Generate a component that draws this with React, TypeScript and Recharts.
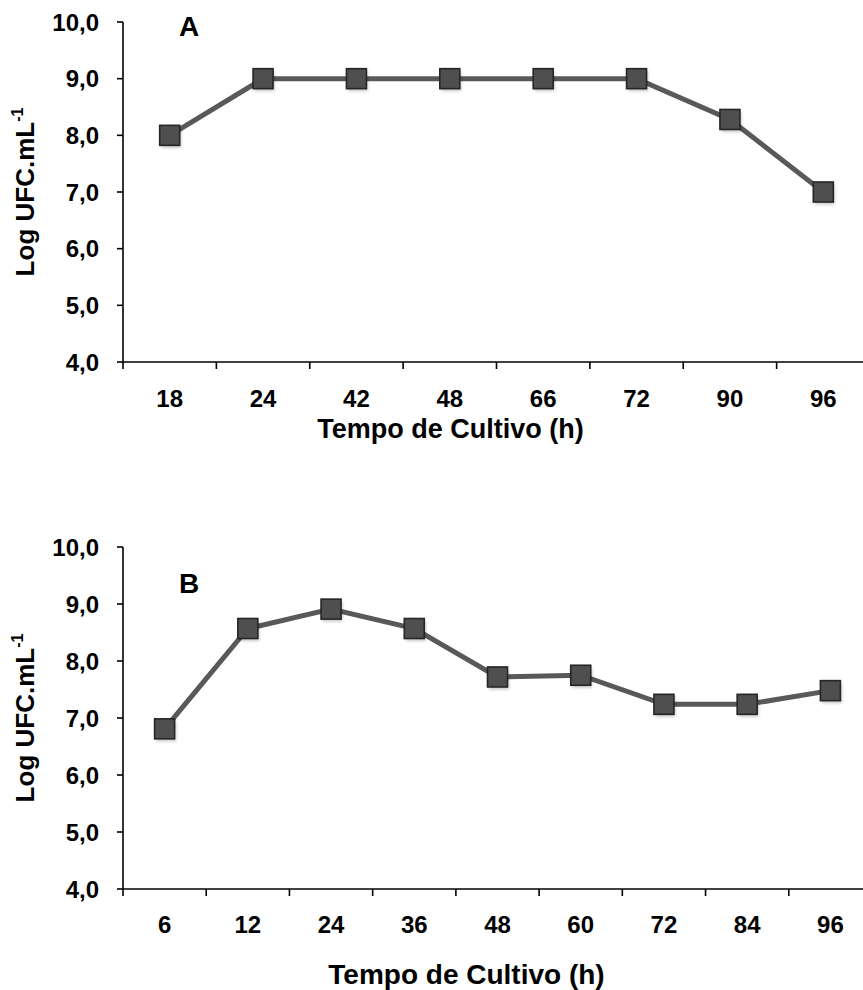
import React from 'react';
import { LineChart, Line, XAxis, YAxis } from 'recharts';

const hoursA = ['18', '24', '42', '48', '66', '72', '90', '96'];
const valuesA = [8.0, 9.0, 9.0, 9.0, 9.0, 9.0, 8.28, 7.0];

const hoursB = ['6', '12', '24', '36', '48', '60', '72', '84', '96'];
const valuesB = [6.81, 8.57, 8.91, 8.57, 7.72, 7.75, 7.24, 7.24, 7.48];

const yTicks = [4, 5, 6, 7, 8, 9, 10];
const xTitle = 'Tempo de Cultivo (h)';

const FONT = '"Liberation Sans", Arial, Helvetica, sans-serif';

const dataA = hoursA.map((h, i) => ({ h, v: valuesA[i] }));
const dataB = hoursB.map((h, i) => ({ h, v: valuesB[i] }));

const fmt = (v: number) => v.toFixed(1).replace('.', ',');

const Square = (props: any) => {
  const { cx, cy, index } = props;
  if (cx == null || cy == null) return null;
  const s = 20;
  return (
    <g key={`sq-${index}`}>
      <rect x={cx - s / 2 + 1.5} y={cy - s / 2 + 2.5} width={s} height={s} fill="rgba(0,0,0,0.22)" filter="url(#blurSh)" />
      <rect x={cx - s / 2} y={cy - s / 2} width={s} height={s} fill="#4f4f4f" stroke="#262626" strokeWidth={1.6} />
    </g>
  );
};

const makeXTick = (labelDy: number) => (props: any) => {
  const { x, y, payload, index } = props;
  const half = payload && payload.offset != null ? payload.offset : 0;
  return (
    <g key={`xt-${index}`}>
      <line x1={x - half} x2={x - half} y1={y} y2={y + 7} stroke="#000" strokeWidth={1.6} />
      <text x={x} y={y + labelDy} textAnchor="middle" fontFamily={FONT} fontWeight="bold" fontSize={24} fill="#000">
        {payload.value}
      </text>
    </g>
  );
};

const makeXTitle = (dx: number, dy: number, size: number) => (props: any) => {
  const vb = props.viewBox || {};
  const x = vb.x + vb.width / 2 + dx;
  const y = vb.y + dy;
  return (
    <text x={x} y={y} textAnchor="middle" fontFamily={FONT} fontWeight="bold" fontSize={size} fill="#000">
      {xTitle}
    </text>
  );
};

const YTitle = (props: any) => {
  const vb = props.viewBox || {};
  const cy = vb.y + vb.height / 2;
  const x = 34;
  return (
    <text x={x} y={cy} transform={`rotate(-90, ${x}, ${cy})`} textAnchor="middle" fontFamily={FONT} fontWeight="bold" fontSize={26} fill="#000">
      Log UFC.mL
      <tspan dy={-11} fontSize={16}>-1</tspan>
    </text>
  );
};

const Panel = ({ data, letter, letterY, height, plotHeight, marginRight, labelDy, titleDx, titleDy, titleSize }: any) => (
  <LineChart
    width={880}
    height={height}
    data={data}
    margin={{ top: 22, right: marginRight, left: 0, bottom: 0 }}
  >
    <defs>
      <filter id="blurSh" x="-30%" y="-30%" width="160%" height="160%">
        <feGaussianBlur stdDeviation="1.8" />
      </filter>
    </defs>
    <XAxis
      dataKey="h"
      type="category"
      scale="band"
      height={height - 22 - plotHeight}
      axisLine={{ stroke: '#000', strokeWidth: 1.6 }}
      tickLine={false}
      tickSize={0}
      tickMargin={0}
      interval={0}
      tick={makeXTick(labelDy)}
      label={{ content: makeXTitle(titleDx, titleDy, titleSize) }}
    />
    <YAxis
      domain={[4, 10]}
      ticks={yTicks}
      type="number"
      width={123}
      axisLine={{ stroke: '#000', strokeWidth: 1.6 }}
      tickLine={{ stroke: '#000', strokeWidth: 1.6 }}
      tickSize={6}
      tickMargin={18}
      tickFormatter={fmt}
      tick={{ fontFamily: FONT, fontWeight: 'bold', fontSize: 24, fill: '#000' }}
      label={{ content: (p: any) => <YTitle {...p} /> }}
    />
    <Line
      dataKey="v"
      stroke="#595959"
      strokeWidth={5}
      dot={Square}
      activeDot={false}
      isAnimationActive={false}
    />
    <text x={189} y={letterY} textAnchor="middle" fontFamily={FONT} fontWeight="bold" fontSize={28} fill="#000">
      {letter}
    </text>
  </LineChart>
);

export default function App() {
  return (
    <div style={{ position: 'absolute', left: 0, top: 0, width: 863, height: 990, overflow: 'hidden', background: '#fff' }}>
      <div style={{ position: 'absolute', left: 0, top: 0 }}>
        <Panel data={dataA} letter="A" letterY={36} height={460} plotHeight={340} marginRight={10}
          labelDy={45} titleDx={-46} titleDy={76} titleSize={27} />
      </div>
      <div style={{ position: 'absolute', left: 0, top: 525 }}>
        <Panel data={dataB} letter="B" letterY={68} height={465} plotHeight={342} marginRight={8}
          labelDy={44} titleDx={-31} titleDy={95} titleSize={28} />
      </div>
    </div>
  );
}
